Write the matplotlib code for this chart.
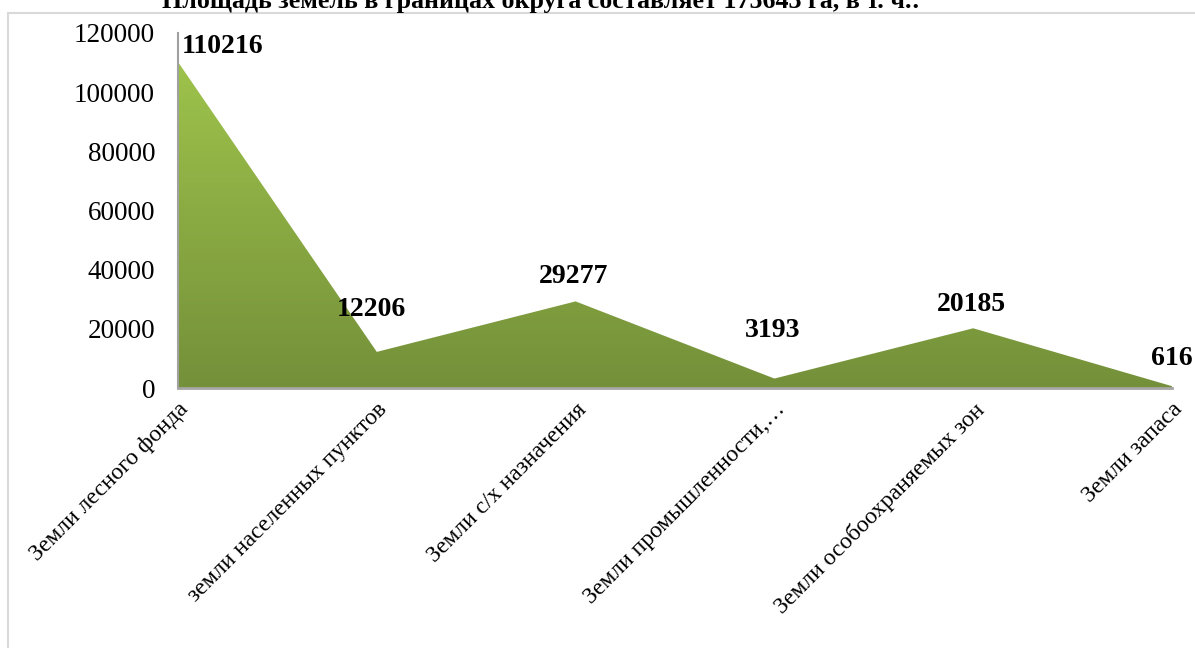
import matplotlib
matplotlib.use("Agg")
import matplotlib.pyplot as plt
import numpy as np
from matplotlib.colors import LinearSegmentedColormap
from matplotlib.patches import Rectangle

categories = ["Земли лесного фонда", "земли населенных пунктов", "Земли с/х назначения",
              "Земли промышленности,…", "Земли особоохраняемых зон", "Земли запаса"]
values = [110216, 12206, 29277, 3193, 20185, 616]
yticks = [0, 20000, 40000, 60000, 80000, 100000, 120000]
title = "Площадь земель в границах округа составляет 175643 га, в т. ч.:"

plt.rcParams['font.family'] = ['Liberation Serif', 'DejaVu Serif']

W, H = 1195, 648
fig = plt.figure(figsize=(W / 100, H / 100), dpi=100)
ax = fig.add_axes([178 / W, 1 - 388 / H, (1172 - 178) / W, (388 - 33) / H])

x = np.arange(len(values))
poly = ax.fill_between(x, 0, values, facecolor='none', edgecolor='none')
cmap = LinearSegmentedColormap.from_list('g', ['#74903A', '#9EC34B'])
grad = np.linspace(0, 1, 256).reshape(-1, 1)
im = ax.imshow(grad, cmap=cmap, origin='lower', aspect='auto',
               extent=[0, len(values) - 1, 0, max(values)], zorder=1)
im.set_clip_path(poly.get_paths()[0], transform=ax.transData)

ax.set_xlim(0, len(values) - 1)
ax.set_ylim(0, 120000)
ax.set_yticks(yticks)
ax.set_yticklabels([str(v) for v in yticks], fontsize=19.5)
ax.tick_params(axis='y', length=0, pad=16.5)
ax.set_xticks(x)
ax.set_xticklabels(categories, rotation=45, ha='right', va='top',
                   rotation_mode='anchor', fontsize=17)
ax.tick_params(axis='x', length=0, pad=8)
for s in ['top', 'right']:
    ax.spines[s].set_visible(False)
ax.spines['left'].set_color('#A0A0A0')
ax.spines['bottom'].set_color('#A6A6A6')
ax.spines['bottom'].set_linewidth(2)
ax.spines['left'].set_linewidth(1.5)

# label offsets in pixels (dx, dy) and alignment
offs = [(4, 15, 'left'), (-5, 42, 'center'), (-2, 25, 'center'),
        (-2, 48, 'center'), (-2, 24, 'center'), (0, 28, 'center')]
for xi, v, (dx, dy, ha) in zip(x, values, offs):
    ax.annotate(str(v), (xi, v), xytext=(dx * 0.72, dy * 0.72), textcoords='offset points',
                ha=ha, va='center', fontsize=20, fontweight='bold', zorder=5,
                annotation_clip=False)

fig.text(541 / W, 1 - 8 / H, title, ha='center', va='baseline',
         fontsize=18.7, fontweight='bold')

fig.patches.append(Rectangle((8 / W, -0.05), 1.1, 1 - 13 / H + 0.05,
                             transform=fig.transFigure, fill=False,
                             edgecolor='#D9D9D9', linewidth=1.5))

fig.savefig('out.png', dpi=100)
